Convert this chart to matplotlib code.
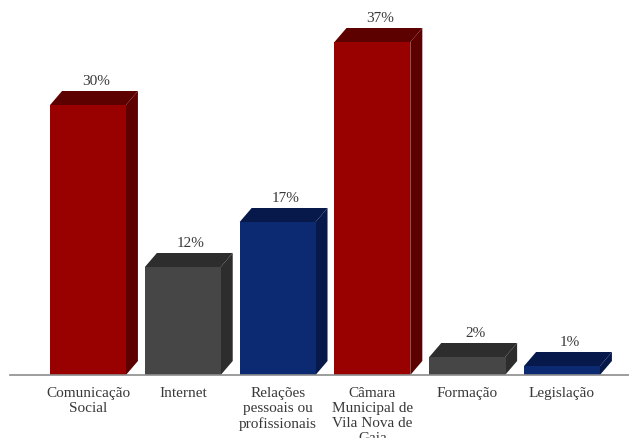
import matplotlib
matplotlib.use("Agg")
import matplotlib.pyplot as plt
from matplotlib.patches import Polygon

categories = ["Comunicação\nSocial", "Internet", "Relações\npessoais ou\nprofissionais",
              "Câmara\nMunicipal de\nVila Nova de\nGaia", "Formação", "Legislação"]
values = [30, 12, 17, 37, 2, 1]
value_labels = ["30%", "12%", "17%", "37%", "2%", "1%"]

front_colors = ["#990000", "#464646", "#0b2a72", "#990000", "#464646", "#0b2a72"]
dark_colors = ["#5c0000", "#2d2d2d", "#06194a", "#5c0000", "#2d2d2d", "#06194a"]

W, H, DPI = 629, 439, 100
fig = plt.figure(figsize=(W / DPI, H / DPI), dpi=DPI)
plt.rcParams['font.family'] = ['Liberation Serif', 'DejaVu Serif']

# axes area: baseline at 376 px from top, plot running from x=10 to the right edge
left_px, base_px = 10, 376
ax = fig.add_axes([left_px / W, (H - base_px) / H, (W - left_px) / W, base_px / H])
px_per_cat = 94.8
first_center = 88
ax.set_xlim((left_px - first_center) / px_per_cat, (W - first_center) / px_per_cat)
px_per_pct = 9.0
ax.set_ylim(0, base_px / px_per_pct)

width = 0.80
dx = 12 / px_per_cat
dy = 14 / px_per_pct

for i, v in enumerate(values):
    x0, x1 = i - width / 2, i + width / 2
    ax.bar(i, v, width=width, color=front_colors[i], zorder=3)
    top = Polygon([(x0, v), (x0 + dx, v + dy), (x1 + dx, v + dy), (x1, v)],
                  closed=True, facecolor=dark_colors[i], edgecolor='none', zorder=2)
    side = Polygon([(x1, 0), (x1 + dx, dy), (x1 + dx, v + dy), (x1, v)],
                   closed=True, facecolor=dark_colors[i], edgecolor='none', zorder=2)
    ax.add_patch(top)
    ax.add_patch(side)
    ax.text(i + dx / 2 + 0.02, v + dy + 0.45, value_labels[i], ha='center', va='bottom',
            fontsize=11, color='#383838')

for s in ['top', 'right', 'left']:
    ax.spines[s].set_visible(False)
ax.spines['bottom'].set_color('#8c8c8c')
ax.spines['bottom'].set_linewidth(1.2)
ax.spines['bottom'].set_zorder(4)
ax.set_yticks([])
ax.set_xticks(range(len(categories)))
ax.set_xticklabels(categories, fontsize=11, color='#383838', linespacing=1.2)
ax.tick_params(axis='x', length=0, pad=8)

fig.savefig("out.png", dpi=DPI, facecolor='white')
